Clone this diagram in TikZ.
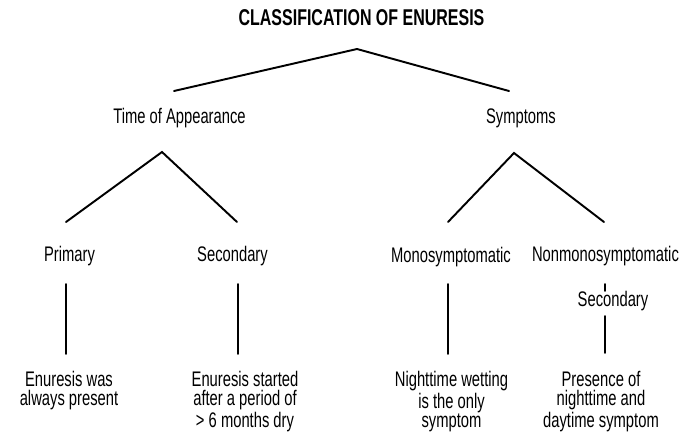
\documentclass[tikz,border=0pt]{standalone}
\usepackage{fontspec}
\setmainfont[FakeStretch=0.7]{Liberation Sans}
\usepackage{tikz}
\usetikzlibrary{positioning}

\tikzset{
  lbl/.style={font=\fontsize{12}{12.2}\selectfont, inner sep=0pt, align=center},
  leaf/.style={lbl, font=\fontsize{12}{11}\selectfont, anchor=north},
  branch/.style={line width=1.1pt, line cap=round}
}

\begin{document}
\begin{tikzpicture}[x=0.02cm, y=-0.02cm]
  \useasboundingbox (0,0) rectangle (691,433);

  % Title
  \node[font=\fontsize{13}{13}\selectfont\bfseries, inner sep=0pt] (title) at (361.5, 18) {CLASSIFICATION OF ENURESIS};

  % First level
  \node[lbl] (time) at (179.5, 118) {Time of Appearance};
  \node[lbl] (sympt) at (521, 118) {Symptoms};

  \coordinate (top) at (357, 49);
  \coordinate (timeend) at (174, 91);
  \coordinate (symptend) at (509, 91);
  \draw[branch] (timeend) -- (top) -- (symptend);

  % Second level
  \node[lbl] (primary) at (69.5, 256) {Primary};
  \node[lbl] (secondary) at (232.5, 256) {Secondary};
  \node[lbl] (mono) at (451, 257) {Monosymptomatic};
  \node[lbl] (nonmono) at (605.5, 256) {Nonmonosymptomatic};

  \coordinate (timetop) at (162, 152);
  \coordinate (primend) at (66, 222);
  \coordinate (secend) at (237, 222);
  \draw[branch] (primend) -- (timetop) -- (secend);

  \coordinate (sympttop) at (514, 153);
  \coordinate (monoend) at (448, 222);
  \coordinate (nonend) at (604, 222);
  \draw[branch] (monoend) -- (sympttop) -- (nonend);

  % Nonmonosymptomatic sub label
  \node[lbl] (nonsec) at (613, 301) {Secondary};

  % Descriptions
  \node[leaf] (primdesc) at (69, 371) {Enuresis was\\always present};
  \node[leaf] (secdesc) at (245, 371) {Enuresis started\\after a period of\\> 6 months dry};
  \node[leaf] (monodesc) at (451.5, 371) {Nighttime wetting\\is the only\\symptom};
  \node[leaf] (nondesc) at (601, 371) {Presence of\\nighttime and\\daytime symptom};

  % Vertical links
  \coordinate (p1) at (66, 284);   \coordinate (p2) at (66, 354);
  \coordinate (s1) at (238, 284);  \coordinate (s2) at (238, 354);
  \coordinate (m1) at (448, 284);  \coordinate (m2) at (448, 354);
  \coordinate (n1) at (605, 284);  \coordinate (n2) at (605, 291);
  \coordinate (n3) at (605, 316);  \coordinate (n4) at (605, 353);
  \draw[branch] (p1) -- (p2);
  \draw[branch] (s1) -- (s2);
  \draw[branch] (m1) -- (m2);
  \draw[branch] (n1) -- (n2);
  \draw[branch] (n3) -- (n4);
\end{tikzpicture}
\end{document}
